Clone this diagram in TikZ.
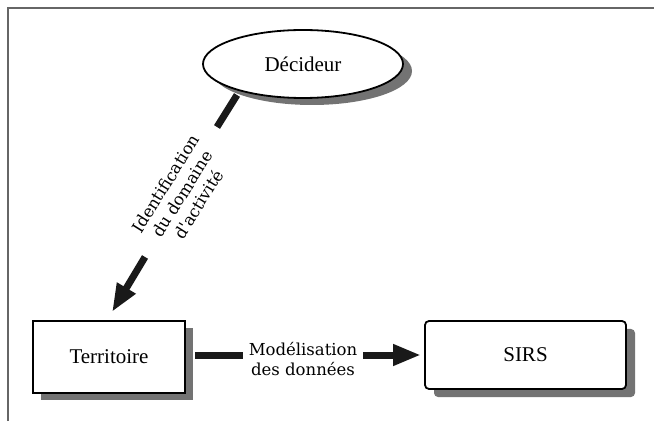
\documentclass[tikz,border=0pt]{standalone}
\usepackage{fontspec}
\setmainfont{Liberation Serif}
\newfontfamily\labfont{DejaVu Serif}
\usetikzlibrary{shapes.geometric,arrows.meta}
\begin{document}
\begin{tikzpicture}[x=1pt,y=1pt,
  nodefont/.style={font=\fontsize{21}{25}\selectfont},
  box/.style={draw=black, line width=1.8pt, fill=white, minimum width=152pt, minimum height=72pt, inner sep=0pt, nodefont},
  sirsbox/.style={box, rounded corners=4pt, minimum width=201pt, minimum height=68pt},
  shadowfill/.style={fill=black!55, draw=none, inner sep=0pt},
  oval/.style={ellipse, draw=black, line width=1.8pt, fill=white, minimum width=200pt, minimum height=68pt, inner sep=0pt, nodefont},
  fat/.style={line width=7pt, draw=black!90},
  fattip/.style={fat, -{Triangle[length=28pt,width=20pt]}},
  lab/.style={font=\labfont\fontsize{16.5}{19.5}\selectfont, align=center, inner sep=1pt},
  frameline/.style={line width=1.5pt, draw=black!60}
]
\useasboundingbox (0,0) rectangle (654,421);
% frame
\coordinate (f1) at (8,0);
\coordinate (f2) at (8,413);
\coordinate (f3) at (654,413);
\draw[frameline] (f1) -- (f2) -- (f3);

% shadows
\node[ellipse, shadowfill, minimum width=200pt, minimum height=68pt] (decs) at (312,350) {};
\node[shadowfill, minimum width=152pt, minimum height=72pt] (ters) at (117,57) {};
\node[shadowfill, rounded corners=4pt, minimum width=201pt, minimum height=68pt] (sirss) at (534.5,58) {};

% nodes
\node[oval] (dec) at (303,357) {Décideur};
\node[box] (ter) at (109,64) {Territoire};
\node[sirsbox] (sirs) at (525.5,66) {SIRS};

% diagonal arrow
\coordinate (d1) at (237,326);
\coordinate (d2) at (217,294);
\coordinate (d3) at (145,164);
\coordinate (d4) at (112,109);
\draw[fat] (d1) -- (d2);
\draw[fattip] (d3) -- (d4);
\node[lab, rotate=58] (ida) at (182,227) {Identification\\du domaine\\d\textquotesingle activité};

% horizontal arrow
\coordinate (h1) at (195,66);
\coordinate (h2) at (243,66);
\coordinate (h3) at (363,66);
\coordinate (h4) at (421,66);
\draw[fat] (h1) -- (h2);
\draw[fattip] (h3) -- (h4);
\node[lab] (mod) at (303,62) {Modélisation\\des données};
\end{tikzpicture}
\end{document}
